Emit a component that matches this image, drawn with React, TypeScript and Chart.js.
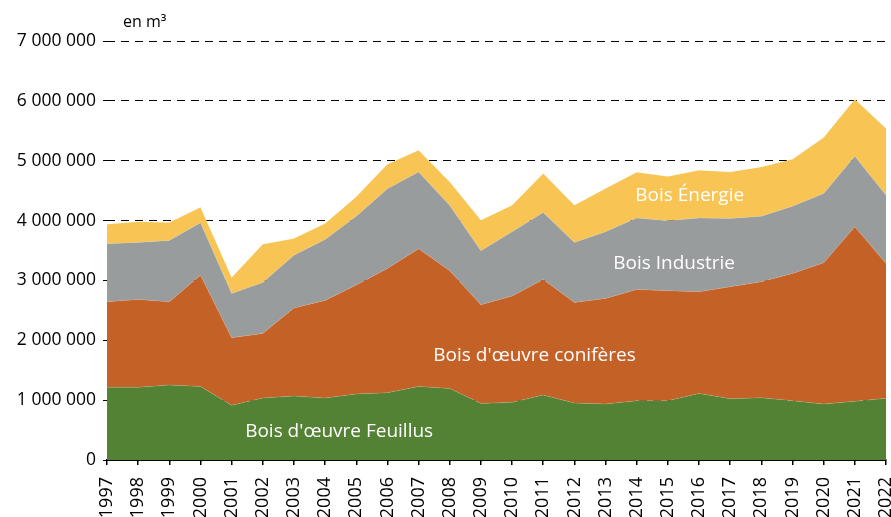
import React, { useEffect, useRef } from "react";
import { Chart, registerables } from "chart.js";

Chart.register(...registerables);

const years = ["1997","1998","1999","2000","2001","2002","2003","2004","2005","2006","2007","2008","2009","2010","2011","2012","2013","2014","2015","2016","2017","2018","2019","2020","2021","2022"];

const feuillus = [1214000,1214000,1252000,1230000,913000,1035000,1068000,1035000,1102000,1124000,1230000,1196000,946000,963000,1085000,952000,935000,990000,990000,1113000,1024000,1041000,990000,935000,980000,1030000];
const coniferes = [1429000,1468000,1391000,1858000,1129000,1080000,1470000,1631000,1820000,2076000,2298000,1965000,1647000,1775000,1931000,1680000,1764000,1859000,1837000,1697000,1870000,1936000,2126000,2359000,2915000,2253000];
const industrie = [968000,952000,1025000,874000,741000,851000,884000,1018000,1151000,1330000,1285000,1091000,901000,1074000,1119000,1002000,1113000,1196000,1168000,1235000,1140000,1096000,1124000,1158000,1180000,1141000];
const energie = [329000,345000,300000,262000,267000,640000,279000,267000,323000,412000,362000,394000,513000,445000,651000,623000,724000,763000,741000,796000,779000,823000,785000,935000,952000,1113000];

const seriesNames = ["Bois d'œuvre Feuillus", "Bois d'œuvre conifères", "Bois Industrie", "Bois Énergie"];
const seriesColors = ["#548235", "#C46127", "#999C9C", "#F8C453"];

// label anchors in data units: [category index, value]
const labelAnchors: [number, number][] = [
  [7.45, 470000],
  [13.72, 1750000],
  [18.2, 3280000],
  [18.7, 4420000],
];

const yMax = 7000000;
const yStep = 1000000;
const unitLabel = "en m³";
const FONT = "'Open Sans', sans-serif";

function fmt(v: number): string {
  return String(Math.round(v)).replace(/\B(?=(\d{3})+(?!\d))/g, " ");
}

const labelPlugin = {
  id: "areaLabels",
  afterDatasetsDraw(chart: any) {
    const { ctx, scales, chartArea } = chart;
    ctx.save();
    ctx.fillStyle = "#ffffff";
    ctx.font = `19px ${FONT}`;
    ctx.textAlign = "center";
    ctx.textBaseline = "middle";
    labelAnchors.forEach((a, i) => {
      const x = scales.x.getPixelForValue(a[0]);
      const y = scales.y.getPixelForValue(a[1]);
      ctx.fillText(seriesNames[i], x, y);
    });
    ctx.fillStyle = "#000000";
    ctx.font = `16px ${FONT}`;
    ctx.textAlign = "left";
    ctx.textBaseline = "alphabetic";
    ctx.fillText(unitLabel, chartArea.left + 16, chartArea.top - 14);
    ctx.restore();
  },
};

export default function App() {
  const ref = useRef<HTMLCanvasElement>(null);
  useEffect(() => {
    document.body.style.margin = "0";
    const data = [feuillus, coniferes, industrie, energie];
    const chart = new Chart(ref.current as HTMLCanvasElement, {
      type: "line",
      data: {
        labels: years,
        datasets: data.map((d, i) => ({
          label: seriesNames[i],
          data: d,
          backgroundColor: seriesColors[i],
          borderColor: "rgba(255,255,255,0.25)",
          borderWidth: 0.5,
          pointRadius: 0,
          tension: 0,
          fill: i === 0 ? "origin" : "-1",
        })),
      },
      options: {
        animation: false,
        responsive: false,
        maintainAspectRatio: false,
        layout: { padding: { top: 41, left: 0, right: 5, bottom: 0 } },
        plugins: {
          legend: { display: false },
          tooltip: { enabled: false },
        },
        scales: {
          x: {
            offset: false,
            grid: { drawOnChartArea: false, drawTicks: true, tickLength: 5, color: "#000", lineWidth: 1.5 },
            border: { display: true, color: "#000", width: 2 },
            ticks: {
              maxRotation: 90,
              minRotation: 90,
              autoSkip: false,
              color: "#000",
              padding: 12,
              font: { family: FONT, size: 18 },
            },
            afterFit: (scale: any) => {
              scale.height = 57;
              scale.paddingLeft = 0;
              scale.paddingRight = 0;
            },
          },
          y: {
            stacked: true,
            min: 0,
            max: yMax,
            grid: { color: "#000", lineWidth: 1, tickLength: 4, drawTicks: true },
            border: { display: false, dash: [8, 6] },
            ticks: {
              stepSize: yStep,
              color: "#000",
              padding: 7,
              font: { family: FONT, size: 17.5 },
              callback: (v: any) => fmt(Number(v)),
            },
            afterFit: (scale: any) => {
              scale.width = 107;
            },
          },
        },
      },
      plugins: [labelPlugin],
    });
    return () => chart.destroy();
  }, []);
  return (
    <div style={{ width: 891, height: 517 }}>
      <canvas ref={ref} width={891} height={517} style={{ display: "block" }} />
    </div>
  );
}
